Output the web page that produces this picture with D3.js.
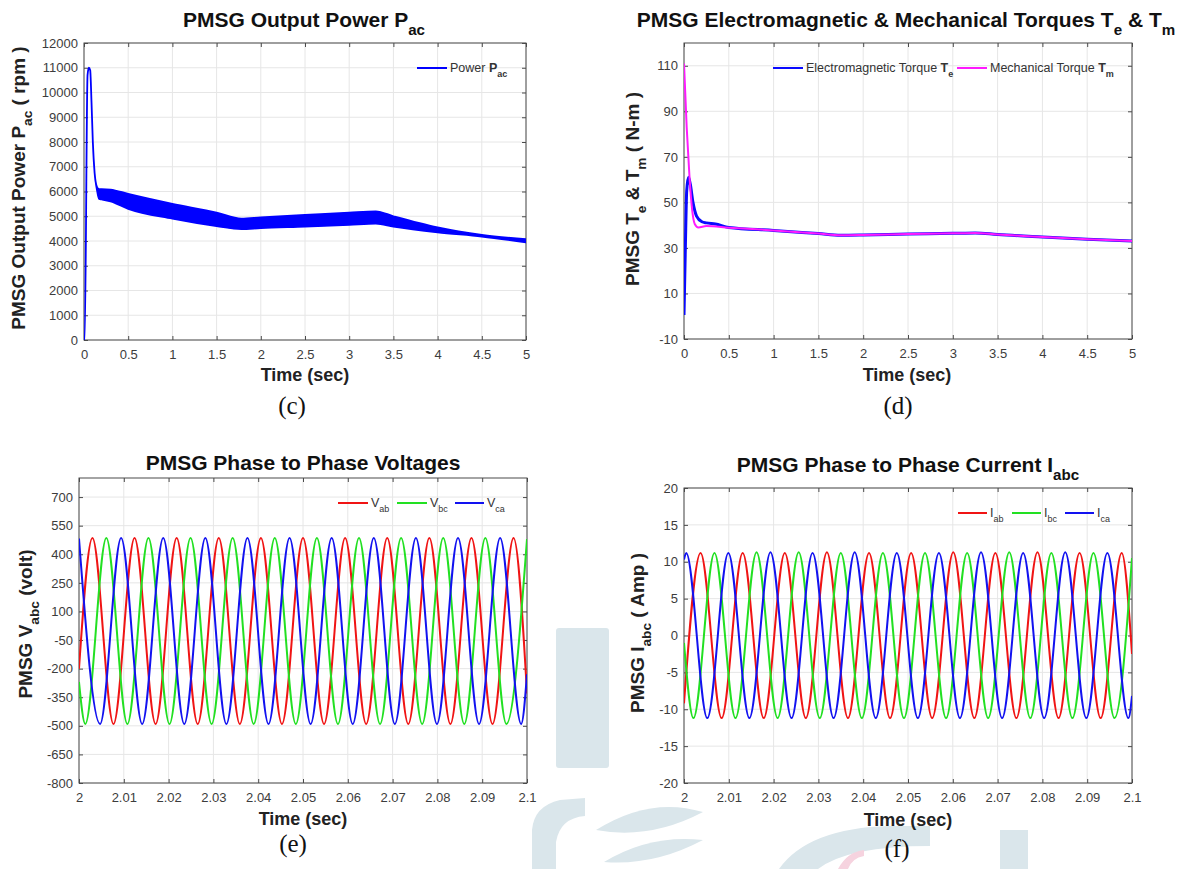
<!DOCTYPE html>
<html lang="en">
<head>
<meta charset="UTF-8">
<title>PMSG waveforms</title>
<script src="https://d3js.org/d3.v7.min.js"></script>
<style>
  body { margin: 0; background: #fff; }
  svg { display: block; font-family: "Liberation Sans", Arial, Helvetica, sans-serif; }
</style>
</head>
<body>
<script>
// ---- (c) output power: envelope of the ripple band ----
var powerTime  = [0, 0.008, 0.04, 0.055, 0.07, 0.085, 0.1, 0.12, 0.145, 0.17, 0.2, 0.3, 0.5, 1.0, 1.5, 1.78, 2.0, 2.5, 3.0, 3.3, 3.5, 4.0, 4.5, 5.0];
var powerUpper = [0, 0, 10700, 11000, 10900, 9600, 8000, 6750, 6200, 6100, 6100, 6080, 5900, 5500, 5150, 4900, 4950, 5050, 5150, 5200, 5000, 4550, 4250, 4070];
var powerLower = [0, 0, 10700, 11000, 10900, 9600, 8000, 6750, 6100, 5700, 5680, 5600, 5300, 4900, 4600, 4480, 4520, 4580, 4650, 4700, 4580, 4350, 4180, 3950];

// ---- (d) torques ----
var teTime = [0, 0.015, 0.03, 0.05, 0.07, 0.1, 0.14, 0.2, 0.25, 0.35, 0.5, 1.0, 1.5, 1.75, 2.0, 2.5, 3.0, 3.25, 3.5, 4.0, 4.5, 5.0];
var teVal  = [0.5, 30, 55, 61, 58, 50, 44, 41.5, 41, 40.5, 39, 37.7, 36.3, 35.6, 35.7, 36.1, 36.4, 36.6, 35.9, 34.8, 33.8, 33];
var tmTime = [0, 0.03, 0.06, 0.09, 0.12, 0.16, 0.25, 0.5, 1.0, 1.5, 1.75, 2.0, 2.5, 3.0, 3.25, 3.5, 4.0, 4.5, 5.0];
var tmVal  = [111, 83, 62, 47, 40.5, 39, 39.6, 38.9, 37.7, 36.3, 35.6, 35.7, 36.1, 36.4, 36.6, 35.9, 34.8, 33.8, 33];

// ---- (e) line voltages: extrema [time, volt] ----
var vab = [[2.0000,-200],[2.0030,485],[2.0077,-490],[2.0124,485],[2.0171,-490],[2.0218,485],[2.0265,-490],[2.0312,485],[2.0359,-490],[2.0406,485],[2.0453,-490],[2.0500,485],[2.0547,-490],[2.0594,485],[2.0641,-490],[2.0688,485],[2.0735,-490],[2.0782,485],[2.0829,-490],[2.0876,485],[2.0923,-490],[2.0970,485],[2.1000,-330]];
var vbc = [[2.0000,-270],[2.0014,-490],[2.0061,485],[2.0108,-490],[2.0155,485],[2.0202,-490],[2.0249,485],[2.0296,-490],[2.0343,485],[2.0390,-490],[2.0437,485],[2.0484,-490],[2.0531,485],[2.0578,-490],[2.0625,485],[2.0672,-490],[2.0719,485],[2.0766,-490],[2.0813,485],[2.0860,-490],[2.0907,485],[2.0954,-490],[2.1000,480]];
var vca = [[2.0000,482],[2.0047,-490],[2.0094,485],[2.0141,-490],[2.0188,485],[2.0235,-490],[2.0282,485],[2.0329,-490],[2.0376,485],[2.0423,-490],[2.0470,485],[2.0517,-490],[2.0564,485],[2.0611,-490],[2.0658,485],[2.0705,-490],[2.0752,485],[2.0799,-490],[2.0846,485],[2.0893,-490],[2.0940,485],[2.0987,-490],[2.1000,-230]];

// ---- (f) line currents: extrema [time, amp] ----
var iab = [[2.0000,-9.2],[2.0037,11.2],[2.0084,-11.2],[2.0131,11.2],[2.0178,-11.2],[2.0225,11.2],[2.0272,-11.2],[2.0319,11.3],[2.0366,-11.2],[2.0413,11.2],[2.0460,-11.2],[2.0507,11.2],[2.0554,-11.2],[2.0601,11.3],[2.0648,-11.2],[2.0695,11.2],[2.0742,-11.2],[2.0789,11.3],[2.0836,-11.2],[2.0883,11.2],[2.0930,-11.2],[2.0977,11.2],[2.1000,-2.5]];
var ibc = [[2.0000,-1],[2.0021,-11.2],[2.0068,11.2],[2.0115,-11.2],[2.0162,11.3],[2.0209,-11.2],[2.0256,11.3],[2.0303,-11.2],[2.0350,11.2],[2.0397,-11.2],[2.0444,11.2],[2.0491,-11.2],[2.0538,11.2],[2.0585,-11.2],[2.0632,11.2],[2.0679,-11.2],[2.0726,11.3],[2.0773,-11.2],[2.0820,11.2],[2.0867,-11.2],[2.0914,11.2],[2.0961,-11.2],[2.1000,10.5]];
var ica = [[2.0000,10.3],[2.0005,11.2],[2.0052,-11.2],[2.0099,11.2],[2.0146,-11.2],[2.0193,11.3],[2.0240,-11.2],[2.0287,11.2],[2.0334,-11.2],[2.0381,11.3],[2.0428,-11.2],[2.0475,11.2],[2.0522,-11.2],[2.0569,11.2],[2.0616,-11.2],[2.0663,11.3],[2.0710,-11.2],[2.0757,11.2],[2.0804,-11.2],[2.0851,11.3],[2.0898,-11.2],[2.0945,11.2],[2.0992,-11.2],[2.1000,-8.2]];

// ---- tick labels ----
var tTicks5   = [0, 0.5, 1, 1.5, 2, 2.5, 3, 3.5, 4, 4.5, 5];
var tTicksZm  = [2, 2.01, 2.02, 2.03, 2.04, 2.05, 2.06, 2.07, 2.08, 2.09, 2.1];
var powTicks  = [0, 1000, 2000, 3000, 4000, 5000, 6000, 7000, 8000, 9000, 10000, 11000, 12000];
var torTicks  = [-10, 10, 30, 50, 70, 90, 110];
var voltTicks = [-800, -650, -500, -350, -200, -50, 100, 250, 400, 550, 700];
var ampTicks  = [-20, -15, -10, -5, 0, 5, 10, 15, 20];

var RED = "#f01414", GREEN = "#22e022", BLUE = "#1212f0", MAG = "#ff1aff";

var svg = d3.select("body").append("svg").attr("width", 1182).attr("height", 869);

// faint watermark behind the figure
var wm = svg.append("g").attr("fill", "#dae6eb");
wm.append("rect").attr("x", 556).attr("y", 628).attr("width", 53).attr("height", 140).attr("rx", 3);
wm.append("path").attr("d", "M532,869 L532,830 Q534,806 560,800 L585,798 L585,816 Q560,818 556,842 L556,869 Z");
wm.append("path").attr("d", "M703,812 Q650,796 596,830 Q650,840 703,812 Z");
wm.append("path").attr("d", "M703,840 Q650,834 604,862 Q654,866 703,840 Z");
wm.append("path").attr("d", "M779,869 Q808,828 890,826 L930,826 L930,846 Q848,846 818,869 Z");
wm.append("rect").attr("x", 1000).attr("y", 830).attr("width", 28).attr("height", 39);
wm.append("path").attr("fill", "#f6d3df").attr("d", "M838,869 Q847,852 864,850 L864,856 Q852,858 848,869 Z");

// text with sub-scripts / bold pieces
function rich(sel, parts, size) {
  var shift = 0;
  parts.forEach(function (p) {
    var ts = sel.append("tspan").text(p.t);
    var target = p.sub ? size * 0.38 : 0;
    if (target !== shift) { ts.attr("dy", target - shift); shift = target; }
    if (p.sub) ts.attr("font-size", size * 0.72);
    if (p.b) ts.attr("font-weight", "bold");
  });
}

var clipId = 0;
function panel(cfg) {
  var g = svg.append("g");
  var x = d3.scaleLinear().domain(cfg.xDomain).range([cfg.left, cfg.right]);
  var y = d3.scaleLinear().domain(cfg.yDomain).range([cfg.bottom, cfg.top]);

  // grid
  g.append("g").selectAll("line").data(cfg.xTicks).join("line")
    .attr("x1", function (d) { return x(d); }).attr("x2", function (d) { return x(d); })
    .attr("y1", cfg.top).attr("y2", cfg.bottom)
    .attr("stroke", "#e6e6e6");
  g.append("g").selectAll("line").data(cfg.yTicks).join("line")
    .attr("y1", function (d) { return y(d); }).attr("y2", function (d) { return y(d); })
    .attr("x1", cfg.left).attr("x2", cfg.right)
    .attr("stroke", "#e6e6e6");

  // axes, ticks pointing inward on all four sides
  function style(a) {
    a.attr("font-size", null).attr("font-family", null);
    a.select(".domain").remove();
    a.selectAll(".tick line").attr("stroke", "#4a4a4a");
    a.selectAll(".tick text").attr("fill", "#3c3c3c").style("font-size", "13px");
  }
  g.append("g").attr("transform", "translate(0," + cfg.bottom + ")")
    .call(d3.axisBottom(x).tickValues(cfg.xTicks).tickSize(-4).tickSizeOuter(0).tickPadding(10).tickFormat(cfg.xFmt))
    .call(style);
  g.append("g").attr("transform", "translate(" + cfg.left + ",0)")
    .call(d3.axisLeft(y).tickValues(cfg.yTicks).tickSize(-4).tickSizeOuter(0).tickPadding(6).tickFormat(function (d) { return String(d); }))
    .call(style);
  g.append("g").attr("transform", "translate(0," + cfg.top + ")")
    .call(d3.axisTop(x).tickValues(cfg.xTicks).tickSize(-4).tickSizeOuter(0).tickFormat(""))
    .call(style);
  g.append("g").attr("transform", "translate(" + cfg.right + ",0)")
    .call(d3.axisRight(y).tickValues(cfg.yTicks).tickSize(-4).tickSizeOuter(0).tickFormat(""))
    .call(style);

  g.append("rect").attr("x", cfg.left).attr("y", cfg.top)
    .attr("width", cfg.right - cfg.left).attr("height", cfg.bottom - cfg.top)
    .attr("fill", "none").attr("stroke", "#4a4a4a");

  clipId += 1;
  g.append("clipPath").attr("id", "clip" + clipId).append("rect")
    .attr("x", cfg.left).attr("y", cfg.top)
    .attr("width", cfg.right - cfg.left).attr("height", cfg.bottom - cfg.top);
  var plot = g.append("g").attr("clip-path", "url(#clip" + clipId + ")");

  // titles and labels
  rich(g.append("text").attr("x", cfg.titleX).attr("y", cfg.titleY)
    .attr("text-anchor", "middle").attr("font-weight", "bold").attr("font-size", 21).attr("fill", "#111"),
    cfg.title, 21);
  rich(g.append("text").attr("transform", "translate(" + cfg.ylabX + "," + cfg.ylabY + ") rotate(-90)")
    .attr("text-anchor", "middle").attr("font-weight", "bold").attr("font-size", 19).attr("fill", "#222"),
    cfg.ylabel, 19);
  g.append("text").attr("x", cfg.xlabX).attr("y", cfg.xlabY)
    .attr("text-anchor", "middle").attr("font-weight", "bold").attr("font-size", 18).attr("fill", "#222")
    .text("Time (sec)");
  g.append("text").attr("x", cfg.capX).attr("y", cfg.capY)
    .attr("text-anchor", "middle").attr("font-size", 25).attr("fill", "#111")
    .style("font-family", "'Liberation Serif', 'Times New Roman', serif")
    .text(cfg.caption);

  return { g: g, plot: plot, x: x, y: y };
}

function legend(g, items, ly) {
  items.forEach(function (it) {
    g.append("line").attr("x1", it.x1).attr("x2", it.x2).attr("y1", ly).attr("y2", ly)
      .attr("stroke", it.color).attr("stroke-width", 2);
    rich(g.append("text").attr("x", it.x2 + 3).attr("y", ly + 4).attr("font-size", 12.5).attr("fill", "#333"),
      it.parts, 12.5);
  });
}

var fmtT = function (d) { return String(+d.toFixed(2)); };

// ================= (c) =================
var pc = panel({
  left: 84, right: 526, top: 43, bottom: 340,
  xDomain: [0, 5], yDomain: [0, 12000], xTicks: tTicks5, yTicks: powTicks, xFmt: fmtT,
  title: [{ t: "PMSG Output Power P" }, { t: "ac", sub: true }], titleX: 304, titleY: 27,
  ylabel: [{ t: "PMSG Output Power P" }, { t: "ac", sub: true }, { t: "  ( rpm )" }], ylabX: 25, ylabY: 188,
  xlabX: 305, xlabY: 381, caption: "(c)", capX: 292, capY: 414
});
var powArea = d3.area()
  .x(function (d, i) { return pc.x(powerTime[i]); })
  .y0(function (d, i) { return pc.y(powerLower[i]); })
  .y1(function (d, i) { return pc.y(powerUpper[i]); })
  .curve(d3.curveMonotoneX);
pc.plot.append("path").datum(powerTime).attr("d", powArea)
  .attr("fill", "#0000ff").attr("stroke", "#0000ff").attr("stroke-width", 1.8);
legend(pc.g, [{ x1: 417, x2: 447, color: "#0000ff", parts: [{ t: "Power " }, { t: "P", b: true }, { t: "ac", sub: true, b: true }] }], 68);

// ================= (d) =================
var pd = panel({
  left: 684, right: 1132, top: 43, bottom: 339,
  xDomain: [0, 5], yDomain: [-10, 120], xTicks: tTicks5, yTicks: torTicks, xFmt: fmtT,
  title: [{ t: "PMSG Electromagnetic & Mechanical Torques T" }, { t: "e", sub: true }, { t: " & T" }, { t: "m", sub: true }],
  titleX: 906, titleY: 27,
  ylabel: [{ t: "PMSG  T" }, { t: "e", sub: true }, { t: " & T" }, { t: "m", sub: true }, { t: " ( N-m )" }], ylabX: 639, ylabY: 189,
  xlabX: 907, xlabY: 381, caption: "(d)", capX: 898, capY: 414
});
var teLine = d3.line().x(function (d, i) { return pd.x(teTime[i]); }).y(function (d) { return pd.y(d); }).curve(d3.curveMonotoneX);
var tmLine = d3.line().x(function (d, i) { return pd.x(tmTime[i]); }).y(function (d) { return pd.y(d); }).curve(d3.curveMonotoneX);
pd.plot.append("path").datum(teVal).attr("d", teLine).attr("fill", "none").attr("stroke", "#0a0aff").attr("stroke-width", 3);
pd.plot.append("path").datum(tmVal).attr("d", tmLine).attr("fill", "none").attr("stroke", MAG).attr("stroke-width", 2);
legend(pd.g, [
  { x1: 773, x2: 803, color: "#0a0aff", parts: [{ t: "Electromagnetic Torque " }, { t: "T", b: true }, { t: "e", sub: true, b: true }] },
  { x1: 957, x2: 987, color: MAG, parts: [{ t: "Mechanical Torque " }, { t: "T", b: true }, { t: "m", sub: true, b: true }] }
], 68);

// ================= (e) =================
var pe = panel({
  left: 79, right: 527, top: 478, bottom: 783,
  xDomain: [2, 2.1], yDomain: [-800, 800], xTicks: tTicksZm, yTicks: voltTicks, xFmt: fmtT,
  title: [{ t: "PMSG Phase to Phase Voltages" }], titleX: 303, titleY: 470,
  ylabel: [{ t: "PMSG V" }, { t: "abc", sub: true }, { t: " (volt)" }], ylabX: 32, ylabY: 624,
  xlabX: 303, xlabY: 825, caption: "(e)", capX: 293, capY: 852
});
var vLine = d3.line().x(function (d) { return pe.x(d[0]); }).y(function (d) { return pe.y(d[1]); }).curve(d3.curveMonotoneX);
[[vab, RED], [vbc, GREEN], [vca, BLUE]].forEach(function (s) {
  pe.plot.append("path").datum(s[0]).attr("d", vLine).attr("fill", "none").attr("stroke", s[1]).attr("stroke-width", 2);
});
legend(pe.g, [
  { x1: 338, x2: 368, color: RED, parts: [{ t: "V" }, { t: "ab", sub: true }] },
  { x1: 397, x2: 427, color: GREEN, parts: [{ t: "V" }, { t: "bc", sub: true }] },
  { x1: 455, x2: 484, color: BLUE, parts: [{ t: "V" }, { t: "ca", sub: true }] }
], 503);

// ================= (f) =================
var pf = panel({
  left: 684, right: 1132, top: 488, bottom: 783,
  xDomain: [2, 2.1], yDomain: [-20, 20], xTicks: tTicksZm, yTicks: ampTicks, xFmt: fmtT,
  title: [{ t: "PMSG Phase to Phase Current I" }, { t: "abc", sub: true }], titleX: 908, titleY: 472,
  ylabel: [{ t: "PMSG I" }, { t: "abc", sub: true }, { t: " ( Amp )" }], ylabX: 644, ylabY: 633,
  xlabX: 908, xlabY: 826, caption: "(f)", capX: 897, capY: 857
});
var iLine = d3.line().x(function (d) { return pf.x(d[0]); }).y(function (d) { return pf.y(d[1]); }).curve(d3.curveMonotoneX);
[[iab, RED], [ibc, GREEN], [ica, BLUE]].forEach(function (s) {
  pf.plot.append("path").datum(s[0]).attr("d", iLine).attr("fill", "none").attr("stroke", s[1]).attr("stroke-width", 2);
});
legend(pf.g, [
  { x1: 958, x2: 987, color: RED, parts: [{ t: "I" }, { t: "ab", sub: true }] },
  { x1: 1012, x2: 1041, color: GREEN, parts: [{ t: "I" }, { t: "bc", sub: true }] },
  { x1: 1065, x2: 1094, color: BLUE, parts: [{ t: "I" }, { t: "ca", sub: true }] }
], 513);
</script>
</body>
</html>
